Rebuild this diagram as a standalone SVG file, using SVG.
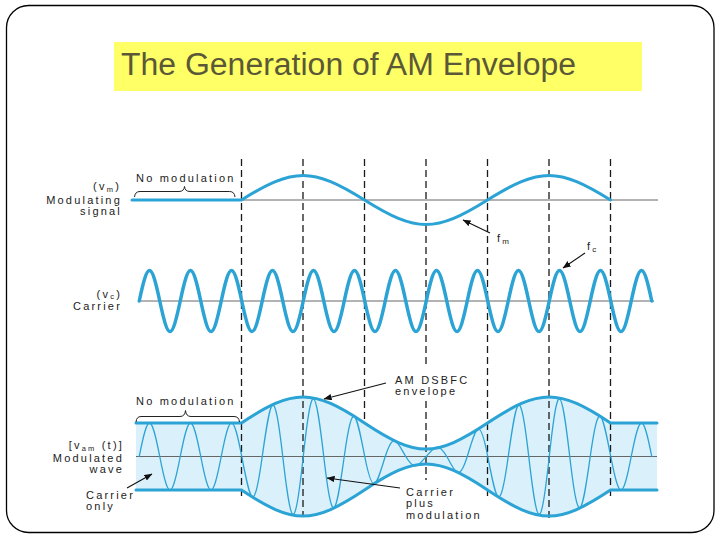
<svg xmlns="http://www.w3.org/2000/svg" width="720" height="540" viewBox="0 0 720 540">
<style>
.lbl{font-family:"Liberation Sans",Arial,sans-serif;font-size:11px;letter-spacing:2.2px;fill:#222}
.end{text-anchor:end}
.dash{stroke:#1a1a1a;stroke-width:1.3;stroke-dasharray:7 4;fill:none}
.wave{fill:none;stroke:#2ba3d5;stroke-linejoin:round;stroke-linecap:round}
.axis{stroke:#666;stroke-width:1;fill:none}
.arrow{stroke:#111;stroke-width:1.1;fill:none;marker-end:url(#ah)}
.brace{stroke:#222;stroke-width:1;fill:none}
</style>
<defs>
<marker id="ah" viewBox="0 0 10 8" refX="9.5" refY="4" markerWidth="8" markerHeight="6.4" orient="auto" markerUnits="userSpaceOnUse">
<path d="M0,0 L10,4 L0,8 z" fill="#111"/>
</marker>
</defs>
<rect width="720" height="540" fill="#fff"/>
<rect id="frame" x="6.5" y="5.5" width="707.5" height="527" rx="22" fill="none" stroke="#000" stroke-width="1.3"/>
<g id="title">
<rect x="114" y="42" width="528" height="49" fill="#ffff66"/>
<text x="121" y="74.5" font-family="'Liberation Sans',Arial,sans-serif" font-size="31" fill="#5b5838" textLength="455" lengthAdjust="spacingAndGlyphs">The Generation of AM Envelope</text>
</g>
<g id="envelope-fill">
<path d="M136,423 H241.5 c52.2,-34.67 70.8,-34.67 123,0 c52.2,34.67 70.8,34.67 123,0 c52.2,-34.67 70.8,-34.67 123,0 H657 V490 H610.5 c-52.2,34.67 -70.8,34.67 -123,0 c-52.2,-34.67 -70.8,-34.67 -123,0 c-52.2,34.67 -70.8,34.67 -123,0 H136 Z" fill="#daf0fb"/>
</g>
<g id="axes">
<line class="axis" x1="132" y1="200" x2="658" y2="200" stroke="#aaa"/>
<line class="axis" x1="138" y1="301" x2="654" y2="301" stroke="#444"/>
<line class="axis" x1="136" y1="456.5" x2="657" y2="456.5"/>
</g>
<g id="time-markers">
<line class="dash" x1="241.5" y1="159" x2="241.5" y2="500"/>
<line class="dash" x1="303" y1="159" x2="303" y2="517"/>
<line class="dash" x1="364.5" y1="159" x2="364.5" y2="420"/>
<line class="dash" x1="426" y1="159" x2="426" y2="368"/>
<line class="dash" x1="426" y1="401" x2="426" y2="480"/>
<line class="dash" x1="487.5" y1="159" x2="487.5" y2="497"/>
<line class="dash" x1="549" y1="159" x2="549" y2="521"/>
<line class="dash" x1="610.5" y1="159" x2="610.5" y2="500"/>
</g>
<g id="modulating-signal">
<path class="wave" stroke-width="3" d="M132,200 H241.5 c52.2,-32.67 70.8,-32.67 123,0 c52.2,32.67 70.8,32.67 123,0 c52.2,-32.67 70.8,-32.67 123,0"/>
</g>
<g id="carrier">
<path class="wave" stroke-width="3.5" d="M139.25,301 c8.7,-40.67 11.8,-40.67 20.5,0 c8.7,40.67 11.8,40.67 20.5,0 c8.7,-40.67 11.8,-40.67 20.5,0 c8.7,40.67 11.8,40.67 20.5,0 c8.7,-40.67 11.8,-40.67 20.5,0 c8.7,40.67 11.8,40.67 20.5,0 c8.7,-40.67 11.8,-40.67 20.5,0 c8.7,40.67 11.8,40.67 20.5,0 c8.7,-40.67 11.8,-40.67 20.5,0 c8.7,40.67 11.8,40.67 20.5,0 c8.7,-40.67 11.8,-40.67 20.5,0 c8.7,40.67 11.8,40.67 20.5,0 c8.7,-40.67 11.8,-40.67 20.5,0 c8.7,40.67 11.8,40.67 20.5,0 c8.7,-40.67 11.8,-40.67 20.5,0 c8.7,40.67 11.8,40.67 20.5,0 c8.7,-40.67 11.8,-40.67 20.5,0 c8.7,40.67 11.8,40.67 20.5,0 c8.7,-40.67 11.8,-40.67 20.5,0 c8.7,40.67 11.8,40.67 20.5,0 c8.7,-40.67 11.8,-40.67 20.5,0 c8.7,40.67 11.8,40.67 20.5,0 c8.7,-40.67 11.8,-40.67 20.5,0 c8.7,40.67 11.8,40.67 20.5,0 c8.7,-40.67 11.8,-40.67 20.5,0"/>
</g>
<g id="modulated-wave">
<path class="wave" stroke-width="1.3" d="M139.25,456.5 c8.7,-44.67 11.8,-44.67 20.5,0 c8.7,44.67 11.8,44.67 20.5,0 c8.7,-44.67 11.8,-44.67 20.5,0 c8.7,44.67 11.8,44.67 20.5,0 c8.7,-44.67 11.8,-44.89 20.5,0 c8.7,44.89 11.8,62.2 20.5,0 c8.7,-62.2 11.8,-74.8 20.5,0 c8.7,74.8 11.8,79.33 20.5,0 c8.7,-79.33 11.8,-74.57 20.5,0 c8.7,74.57 11.8,61.8 20.5,0 c8.7,-61.8 11.8,-44.44 20.5,0 c8.7,44.44 11.8,27.13 20.5,0 c8.7,-27.13 11.8,-14.53 20.5,0 c8.7,14.53 11.8,10 20.5,0 c8.7,-10 11.8,-14.76 20.5,0 c8.7,14.76 11.8,27.53 20.5,0 c8.7,-27.53 11.8,-44.89 20.5,0 c8.7,44.89 11.8,62.2 20.5,0 c8.7,-62.2 11.8,-74.8 20.5,0 c8.7,74.8 11.8,79.33 20.5,0 c8.7,-79.33 11.8,-74.57 20.5,0 c8.7,74.57 11.8,61.8 20.5,0 c8.7,-61.8 11.8,-44.67 20.5,0 c8.7,44.67 11.8,44.67 20.5,0 c8.7,-44.67 11.8,-44.67 20.5,0"/>
<path class="wave" stroke-width="3" d="M136,423 H241.5 c52.2,-34.67 70.8,-34.67 123,0 c52.2,34.67 70.8,34.67 123,0 c52.2,-34.67 70.8,-34.67 123,0 H657"/>
<path class="wave" stroke-width="3" d="M136,490 H241.5 c52.2,34.67 70.8,34.67 123,0 c52.2,-34.67 70.8,-34.67 123,0 c52.2,34.67 70.8,34.67 123,0 H657"/>
</g>
<g id="braces">
<path class="brace" d="M134.5,197 Q135,191.5 140,191.5 H179 Q184,191.5 184.5,186.5 Q185,191.5 190,191.5 H229.5 Q234.5,191.5 235,197"/>
<path class="brace" d="M136,422 Q136.5,416.5 141,416.5 H180 Q185,416.5 185.5,410.5 Q186,416.5 191,416.5 H234 Q239,416.5 239.5,422"/>
</g>
<g id="connectors">
<line class="arrow" x1="490" y1="233" x2="463" y2="220"/>
<line class="arrow" x1="585" y1="253" x2="563" y2="268"/>
<line class="arrow" x1="386" y1="383" x2="324" y2="399"/>
<line class="arrow" x1="400" y1="488" x2="327" y2="478"/>
<line class="arrow" x1="127" y1="488" x2="152" y2="474"/>
</g>
<g id="labels">
<text class="lbl" x="136" y="182">No modulation</text>
<text class="lbl end" x="121" y="190">(v<tspan font-size="7.5" dy="1.5">m</tspan><tspan dy="-1.5">)</tspan></text>
<text class="lbl end" x="122" y="204">Modulating</text>
<text class="lbl end" x="122" y="215">signal</text>
<text class="lbl end" x="122" y="297.5">(v<tspan font-size="7.5" dy="1.5">c</tspan><tspan dy="-1.5">)</tspan></text>
<text class="lbl end" x="122" y="310">Carrier</text>
<text class="lbl" x="497" y="242">f<tspan font-size="8" dy="2">m</tspan></text>
<text class="lbl" x="587" y="250">f<tspan font-size="8" dy="2">c</tspan></text>
<text class="lbl" x="136" y="404.5">No modulation</text>
<text class="lbl" x="395" y="383.5">AM DSBFC</text>
<text class="lbl" x="395" y="394.5">envelope</text>
<text class="lbl end" x="124" y="449">[v<tspan font-size="7.5" dy="1.5">am</tspan><tspan dy="-1.5"> (t)]</tspan></text>
<text class="lbl end" x="124" y="462">Modulated</text>
<text class="lbl end" x="124" y="473">wave</text>
<text class="lbl" x="86" y="499">Carrier</text>
<text class="lbl" x="86" y="510">only</text>
<text class="lbl" x="406" y="495.5">Carrier</text>
<text class="lbl" x="406" y="507">plus</text>
<text class="lbl" x="406" y="519">modulation</text>
</g>
</svg>
